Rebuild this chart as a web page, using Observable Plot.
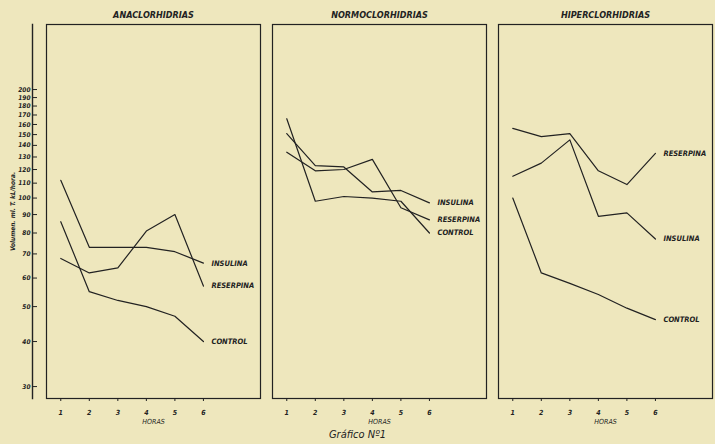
<!DOCTYPE html>
<html><head><meta charset="utf-8">
<script src="https://cdn.jsdelivr.net/npm/d3@7"></script>
<script src="https://cdn.jsdelivr.net/npm/@observablehq/plot@0.6"></script>
<style>
body{margin:0;background:#eee7bd;}
#chart{width:715px;height:444px;position:relative;font-family:"Liberation Sans Narrow","DejaVu Sans Condensed","Liberation Sans",sans-serif;color:#222;}
#caption{position:absolute;left:0;width:715px;top:428px;text-align:center;font-style:italic;font-size:11px;line-height:14px;}
svg{display:block;}
</style></head><body><div id="chart"><div id="caption">Gráfico Nº1</div></div><script>
const hours = [1, 2, 3, 4, 5, 6];
const panels = ["ANACLORHIDRIAS", "NORMOCLORHIDRIAS", "HIPERCLORHIDRIAS"];
const seriesNames = ["INSULINA", "RESERPINA", "CONTROL"];
const yTicks = [30, 40, 50, 60, 70, 80, 90, 100, 110, 120, 130, 140, 150, 160, 170, 180, 190, 200];
const xLabel = "HORAS";

const anaInsulina   = [112, 73, 73, 73, 71, 66];
const anaReserpina  = [68, 62, 64, 81, 90, 57];
const anaControl    = [86, 55, 52, 50, 47, 40];
const normoInsulina  = [151, 123, 122, 104, 105, 97];
const normoReserpina = [134, 119, 120, 128, 94, 87];
const normoControl   = [166, 98, 101, 100, 98, 80];
const hiperInsulina  = [115, 125, 145, 89, 91, 77];
const hiperReserpina = [156, 148, 151, 119, 109, 133];
const hiperControl   = [100, 62, 58, 54, 49.5, 46];

const table = [
  [panels[0], [anaInsulina, anaReserpina, anaControl]],
  [panels[1], [normoInsulina, normoReserpina, normoControl]],
  [panels[2], [hiperInsulina, hiperReserpina, hiperControl]]
];
const data = [];
for (const [panel, arrs] of table) {
  arrs.forEach((vals, i) => {
    vals.forEach((v, j) => data.push({panel, serie: seriesNames[i], hora: hours[j], valor: v}));
  });
}
const ends = data.filter(d => d.hora === hours[hours.length - 1]);

const ink = "#222";
const plot = Plot.plot({
  width: 715, height: 428,
  marginLeft: 45, marginRight: 3, marginTop: 24, marginBottom: 30,
  style: {background: "transparent", fontFamily: "'Liberation Sans Narrow','DejaVu Sans Condensed','Liberation Sans',sans-serif", color: ink},
  fx: {domain: panels, padding: 0.055, label: null},
  x: {domain: [0.5, 8], label: null},
  y: {type: "log", domain: [27.8, 303], label: null},
  marks: [
    Plot.frame({stroke: ink, strokeWidth: 1.2}),
    Plot.axisFx({anchor: "top", tickSize: 0, tickPadding: 7, fontSize: 9, fontStyle: "italic", fontWeight: "bold", fill: ink, label: null}),
    Plot.axisX({ticks: hours, tickSize: 3, tickPadding: 9, fontSize: 7, fontStyle: "italic", fontWeight: "bold", fill: ink, stroke: ink, label: null}),
    Plot.text(panels, {fx: d => d, text: () => xLabel, frameAnchor: "bottom", dy: 25, fontSize: 7, fontStyle: "italic", fill: ink}),
    Plot.axisY({ticks: yTicks, tickFormat: d => String(d), facetAnchor: "left", dx: -14, tickSize: -5, tickPadding: 7, fontSize: 6.5, fontStyle: "italic", fontWeight: "bold", fill: ink, stroke: ink, label: "Volumen. ml. T. kL/hora.", labelAnchor: "center", labelOffset: 36, labelArrow: "none"}),
    Plot.frame({anchor: "left", dx: -14, facetAnchor: "left", stroke: ink, strokeWidth: 1.4}),
    Plot.line(data, {fx: "panel", x: "hora", y: "valor", z: "serie", stroke: ink, strokeWidth: 1.2}),
    Plot.text(ends, {fx: "panel", x: "hora", y: "valor", text: "serie", textAnchor: "start", dx: 8, fontSize: 7.5, fontWeight: "bold", fontStyle: "italic", fill: ink})
  ]
});
document.getElementById("chart").prepend(plot);
</script></body></html>
